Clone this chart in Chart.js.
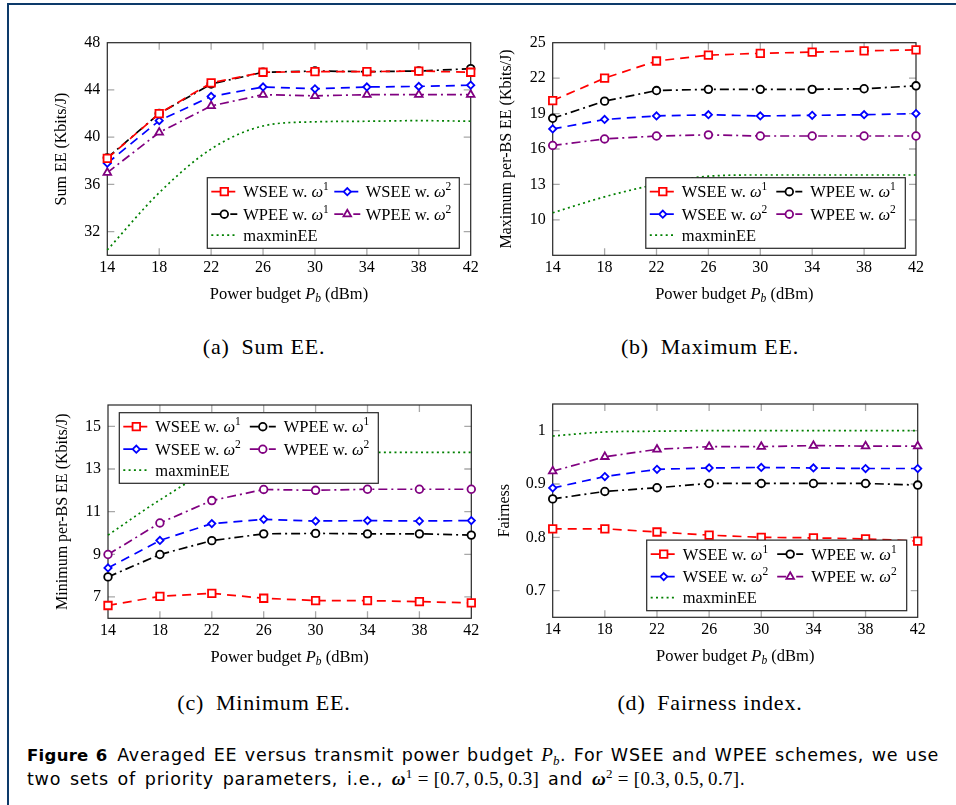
<!DOCTYPE html>
<html>
<head>
<meta charset="utf-8">
<script src="https://cdn.jsdelivr.net/npm/chart.js@4.4.1/dist/chart.umd.min.js"></script>
<style>
html,body{margin:0;padding:0;background:#fff;}
body{width:956px;height:805px;position:relative;overflow:hidden;}
.frameTop{position:absolute;left:7px;top:3px;width:949px;height:2px;background:#0d3a6a;}
.frameLeft{position:absolute;left:7px;top:3px;width:2px;height:802px;background:#0d3a6a;}
canvas{position:absolute;}
.cap{position:absolute;font-family:"Liberation Serif",serif;font-size:22px;letter-spacing:0.8px;transform:translate(-50%,-50%);white-space:nowrap;color:#000;}
.fig{position:absolute;left:27px;width:912px;font-family:"DejaVu Sans",sans-serif;font-size:17.5px;letter-spacing:0.75px;color:#000;line-height:23px;}
.fig .l1{text-align:justify;text-align-last:justify;}
.fig .l2{word-spacing:2.5px;white-space:nowrap;}
.fig b.fn{font-size:16.5px;letter-spacing:0.3px;}
.m{font-family:"Liberation Serif",serif;font-size:19px;letter-spacing:0.3px;word-spacing:0;}
.m sub,.m sup{font-size:13px;line-height:0;position:relative;vertical-align:baseline;}
.m sub{top:4px;}
.m sup{top:-7px;}
.m .eq{margin:0 5px;}
</style>
</head>
<body>
<div class="frameTop"></div><div class="frameLeft"></div>
<canvas id="cA" width="485" height="310" style="left:0;top:0"></canvas>
<canvas id="cB" width="471" height="310" style="left:485px;top:0"></canvas>
<canvas id="cC" width="485" height="290" style="left:0;top:380px"></canvas>
<canvas id="cD" width="471" height="290" style="left:485px;top:380px"></canvas>
<div class="cap" style="left:264px;top:347px">(a)&ensp;Sum EE.</div>
<div class="cap" style="left:710px;top:347px">(b)&ensp;Maximum EE.</div>
<div class="cap" style="left:264px;top:703px">(c)&ensp;Minimum EE.</div>
<div class="cap" style="left:710px;top:703px">(d)&ensp;Fairness index.</div>
<div class="fig" style="top:743px">
<div class="l1"><b class="fn">Figure 6</b>&ensp;Averaged EE versus transmit power budget <span class="m"><i>P</i><sub><i>b</i></sub></span>. For WSEE and WPEE schemes, we use</div>
<div class="l2">two sets of priority parameters, i.e., <span class="m"><b><i>ω</i></b><sup>1</sup><span class="eq">=</span>[0.7,&#8201;0.5,&#8201;0.3]</span> and <span class="m"><b><i>ω</i></b><sup>2</sup><span class="eq">=</span>[0.3,&#8201;0.5,&#8201;0.7]</span>.</div>
</div>
<script>
// ---------------- data ----------------
const powerBudget = [14, 18, 22, 26, 30, 34, 38, 42];
const seriesLabels = ['WSEE w. ω¹', 'WPEE w. ω¹', 'WSEE w. ω²', 'WPEE w. ω²', 'maxminEE'];

// (a) Sum EE (Kbits/J)
const sumWSEE1  = [38.2, 42.0, 44.6, 45.5, 45.55, 45.55, 45.6, 45.5];
const sumWPEE1  = [38.25, 42.0, 44.5, 45.5, 45.6, 45.55, 45.6, 45.8];
const sumWSEE2  = [37.8, 41.4, 43.45, 44.25, 44.1, 44.25, 44.3, 44.4];
const sumWPEE2  = [37.0, 40.4, 42.65, 43.6, 43.5, 43.6, 43.6, 43.6];
const sumMaxmin = [30.45, 35.3, 39.0, 40.95, 41.3, 41.35, 41.4, 41.35];
const sumTicks  = [32, 36, 40, 44, 48];

// (b) Maximum per-BS EE (Kbits/J)
const maxWSEE1  = [20.1, 22.0, 23.45, 23.95, 24.1, 24.2, 24.3, 24.4];
const maxWPEE1  = [18.6, 20.05, 20.95, 21.05, 21.05, 21.05, 21.1, 21.35];
const maxWSEE2  = [17.7, 18.5, 18.8, 18.9, 18.8, 18.85, 18.9, 19.0];
const maxWPEE2  = [16.3, 16.85, 17.1, 17.2, 17.1, 17.1, 17.1, 17.1];
const maxMaxmin = [10.6, 11.95, 13.0, 13.7, 13.8, 13.8, 13.8, 13.8];
const maxTicks  = [10, 13, 16, 19, 22, 25];

// (c) Minimum per-BS EE (Kbits/J)
const minWSEE1  = [6.6, 7.03, 7.17, 6.94, 6.83, 6.83, 6.78, 6.72];
const minWPEE1  = [7.94, 8.99, 9.64, 9.96, 9.98, 9.96, 9.96, 9.9];
const minWSEE2  = [8.36, 9.65, 10.44, 10.64, 10.56, 10.58, 10.56, 10.58];
const minWPEE2  = [8.99, 10.47, 11.52, 12.04, 12.0, 12.05, 12.05, 12.05];
const minMaxmin = [9.9, 11.55, 12.95, 13.6, 13.75, 13.78, 13.78, 13.78];
const minTicks  = [7, 9, 11, 13, 15];

// (d) Fairness
const fairWSEE1  = [0.816, 0.816, 0.81, 0.804, 0.8, 0.799, 0.797, 0.793];
const fairWPEE1  = [0.872, 0.886, 0.893, 0.901, 0.901, 0.901, 0.901, 0.898];
const fairWSEE2  = [0.8925, 0.914, 0.9275, 0.93, 0.931, 0.93, 0.929, 0.929];
const fairWPEE2  = [0.924, 0.951, 0.965, 0.97, 0.97, 0.972, 0.971, 0.971];
const fairMaxmin = [0.99, 0.9975, 0.999, 1.0, 1.0, 1.0, 1.0, 1.0];
const fairTicks  = [0.7, 0.8, 0.9, 1];

// ---------------- styles ----------------
const SERIF = '"Liberation Serif", "Times New Roman", serif';
const TICK_SIZE = 16, TITLE_SIZE = 16.5, LEG_SIZE = 16.5;
const styleDefs = [
  {color: '#ff0000', dash: [9, 6], point: 'rect', r: 5.3},
  {color: '#000000', dash: [9, 4, 2, 4], point: 'circle', r: 3.8},
  {color: '#0000ff', dash: [9, 6], point: 'rectRot', r: 3.6},
  {color: '#800080', dash: [9, 4, 2, 4], point: 'triangle', r: 4.4},
  {color: '#008000', dash: [2, 3.3], point: 'circle', r: 0}
];

function makeDatasets(series, purpleStyle) {
  return series.map((vals, i) => {
    const s = styleDefs[i];
    let ps = s.point, r = s.r;
    if (i === 3 && purpleStyle === 'circle') { ps = 'circle'; r = 3.8; }
    return {
      label: seriesLabels[i],
      data: powerBudget.map((x, k) => ({x: x, y: vals[k]})),
      borderColor: s.color,
      backgroundColor: '#ffffff',
      borderWidth: 1.7,
      borderDash: s.dash,
      pointStyle: ps,
      pointRadius: r,
      pointHoverRadius: r,
      pointBorderWidth: 1.8,
      pointBackgroundColor: '#ffffff',
      pointBorderColor: s.color,
      cubicInterpolationMode: i === 4 ? 'monotone' : 'default',
      tension: 0,
      clip: false
    };
  });
}

function richSegs(label, size) {
  const i = label.indexOf('ω');
  if (i < 0) return [{t: label, f: size + 'px ' + SERIF, dy: 0}];
  const sup = label.slice(i + 1) === '¹' ? '1' : '2';
  return [
    {t: label.slice(0, i), f: size + 'px ' + SERIF, dy: 0},
    {t: 'ω', f: 'italic ' + size + 'px ' + SERIF, dy: 0},
    {t: sup, f: (size * 0.7).toFixed(1) + 'px ' + SERIF, dy: -size * 0.42}
  ];
}
function drawRich(ctx, segs, x, y, align) {
  let w = 0;
  segs.forEach(s => { ctx.font = s.f; s.w = ctx.measureText(s.t).width; w += s.w; });
  let cx = align === 'center' ? x - w / 2 : x;
  ctx.textAlign = 'left';
  ctx.textBaseline = 'alphabetic';
  ctx.fillStyle = '#000';
  segs.forEach(s => { ctx.font = s.f; ctx.fillText(s.t, cx, y + s.dy); cx += s.w; });
}

function drawMarker(ctx, style, r, x, y) {
  if (Chart.helpers && Chart.helpers.drawPoint) {
    Chart.helpers.drawPoint(ctx, {pointStyle: style, radius: r, borderWidth: 1.8, rotation: 0}, x, y);
  }
}

const axisDecor = {
  id: 'axisDecor',
  beforeDatasetsDraw(chart) {
    const {ctx, chartArea: a} = chart;
    const xs = chart.scales.x, ys = chart.scales.y;
    ctx.save();
    ctx.strokeStyle = '#a8a8a8';
    ctx.lineWidth = 1.3;
    const L = 7;
    ctx.beginPath();
    xs.ticks.forEach(t => {
      const px = xs.getPixelForValue(t.value);
      if (px - a.left < 1 || a.right - px < 1) return;
      ctx.moveTo(px, a.bottom); ctx.lineTo(px, a.bottom - L);
      ctx.moveTo(px, a.top); ctx.lineTo(px, a.top + L);
    });
    ys.ticks.forEach(t => {
      const py = ys.getPixelForValue(t.value);
      if (py - a.top < 1 || a.bottom - py < 1) return;
      ctx.moveTo(a.left, py); ctx.lineTo(a.left + L, py);
      ctx.moveTo(a.right, py); ctx.lineTo(a.right - L, py);
    });
    ctx.stroke();
    ctx.strokeStyle = '#262626';
    ctx.lineWidth = 1.2;
    ctx.strokeRect(a.left, a.top, a.right - a.left, a.bottom - a.top);
    ctx.restore();
  },
  afterDraw(chart, args, opts) {
    const {ctx, chartArea: a} = chart;
    ctx.save();
    // x-axis title with italic P and subscript b
    drawRich(ctx, [
      {t: 'Power budget ', f: TITLE_SIZE + 'px ' + SERIF, dy: 0},
      {t: 'P', f: 'italic ' + TITLE_SIZE + 'px ' + SERIF, dy: 0},
      {t: 'b', f: 'italic 11.5px ' + SERIF, dy: 3.5},
      {t: ' (dBm)', f: TITLE_SIZE + 'px ' + SERIF, dy: 0}
    ], (a.left + a.right) / 2, a.bottom + 43.5, 'center');

    // legend box
    const bw = opts.width, bh = 70.6;
    const bx = opts.anchor === 'nw' ? a.left + opts.dx : a.right - opts.dx - bw;
    const by = opts.anchor === 'nw' ? a.top + opts.dy : a.bottom - opts.dy - bh;
    ctx.fillStyle = '#ffffff';
    ctx.fillRect(bx, by, bw, bh);
    ctx.strokeStyle = '#262626';
    ctx.lineWidth = 1.2;
    ctx.strokeRect(bx, by, bw, bh);
    const rowY = [14, 36.5, 57.5];
    const colX = [4, opts.col2];
    opts.rows.forEach((row, ri) => {
      row.forEach((di, ci) => {
        const ds = chart.data.datasets[di];
        const y = by + rowY[ri];
        const x0 = bx + colX[ci], x1 = x0 + 26;
        ctx.save();
        ctx.strokeStyle = ds.borderColor;
        ctx.lineWidth = ds.borderWidth;
        ctx.setLineDash(ds.borderDash);
        ctx.beginPath(); ctx.moveTo(x0, y); ctx.lineTo(x1, y); ctx.stroke();
        ctx.restore();
        if (ds.pointRadius > 0) {
          ctx.save();
          ctx.setLineDash([]);
          ctx.fillStyle = '#ffffff';
          ctx.strokeStyle = ds.borderColor;
          ctx.lineWidth = 1.8;
          drawMarker(ctx, ds.pointStyle, ds.pointRadius, (x0 + x1) / 2, y);
          ctx.restore();
        }
        drawRich(ctx, richSegs(ds.label, LEG_SIZE), x0 + (ci === 0 ? 32 : opts.textGap2), y + 5.5, 'left');
      });
    });
    ctx.restore();
  }
};

function makeChart(id, cfg) {
  const canvas = document.getElementById(id);
  const W = canvas.width, H = canvas.height;
  const t = cfg.area;
  return new Chart(canvas, {
    type: 'line',
    data: {datasets: makeDatasets(cfg.series, cfg.purple)},
    options: {
      responsive: false,
      animation: false,
      devicePixelRatio: 1,
      events: [],
      layout: {padding: {left: 0, top: t.top, right: W - t.right, bottom: 0}},
      plugins: {legend: {display: false}, tooltip: {enabled: false}, axisDecor: cfg.legend},
      scales: {
        x: {
          type: 'linear', min: 14, max: 42,
          afterBuildTicks: s => { s.ticks = powerBudget.map(v => ({value: v})); },
          afterFit: s => { s.height = H - t.bottom; },
          grid: {display: false, drawTicks: false},
          border: {display: false},
          ticks: {padding: 2.5, color: '#000', autoSkip: false, maxRotation: 0,
                  font: {family: SERIF, size: TICK_SIZE}}
        },
        y: {
          type: 'linear', min: cfg.yMin, max: cfg.yMax,
          afterBuildTicks: s => { s.ticks = cfg.yTicks.map(v => ({value: v})); },
          afterFit: s => { s.width = t.left; },
          grid: {display: false, drawTicks: false},
          border: {display: false},
          ticks: {padding: 7, color: '#000', font: {family: SERIF, size: TICK_SIZE},
                  callback: v => String(v)},
          title: {display: true, text: cfg.yTitle, color: '#000',
                  font: {family: SERIF, size: 16},
                  padding: {top: cfg.yTitleX - 9.6, bottom: 0}}
        }
      }
    },
    plugins: [axisDecor]
  });
}

makeChart('cA', {
  series: [sumWSEE1, sumWPEE1, sumWSEE2, sumWPEE2, sumMaxmin], purple: 'triangle',
  yMin: 30, yMax: 48, yTicks: sumTicks, yTitle: 'Sum EE (Kbits/J)', yTitleX: 61.7,
  area: {left: 107.3, top: 42.7, right: 470.7, bottom: 255.3},
  legend: {anchor: 'se', dx: 11.4, dy: 7, width: 252, col2: 127, textGap2: 31.5, rows: [[0, 2], [1, 3], [4]]}
});
makeChart('cB', {
  series: [maxWSEE1, maxWPEE1, maxWSEE2, maxWPEE2, maxMaxmin], purple: 'circle',
  yMin: 7, yMax: 25, yTicks: maxTicks, yTitle: 'Maximum per-BS EE (Kbits/J)', yTitleX: 22,
  area: {left: 67.7, top: 42.7, right: 431, bottom: 255.3},
  legend: {anchor: 'se', dx: 10.7, dy: 7, width: 259.5, col2: 130.5, textGap2: 34, rows: [[0, 1], [2, 3], [4]]}
});
makeChart('cC', {
  series: [minWSEE1, minWPEE1, minWSEE2, minWPEE2, minMaxmin], purple: 'circle',
  yMin: 6, yMax: 16, yTicks: minTicks, yTitle: 'Minimum per-BS EE (Kbits/J)', yTitleX: 62.3,
  area: {left: 108, top: 25, right: 471.3, bottom: 238.3},
  legend: {anchor: 'nw', dx: 11.3, dy: 7.7, width: 259, col2: 130.5, textGap2: 34, rows: [[0, 1], [2, 3], [4]]}
});
makeChart('cD', {
  series: [fairWSEE1, fairWPEE1, fairWSEE2, fairWPEE2, fairMaxmin], purple: 'triangle',
  yMin: 0.65, yMax: 1.05, yTicks: fairTicks, yTitle: 'Fairness', yTitleX: 20,
  area: {left: 67.7, top: 24, right: 432.7, bottom: 237.3},
  legend: {anchor: 'se', dx: 11, dy: 6.6, width: 260, col2: 130.5, textGap2: 34, rows: [[0, 1], [2, 3], [4]]}
});
</script>
</body>
</html>
